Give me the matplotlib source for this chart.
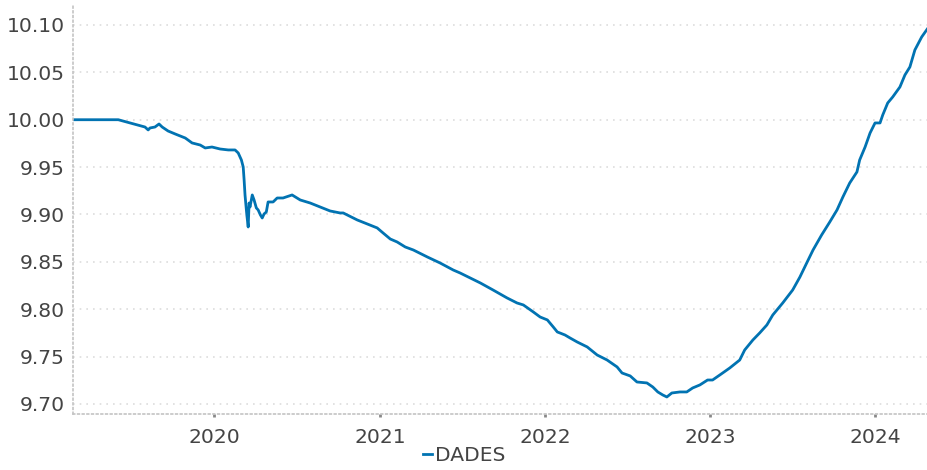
import matplotlib
matplotlib.use("Agg")
import matplotlib.pyplot as plt
import matplotlib.dates as mdates
import pandas as pd

# values
dates = [
    "2019-02-23", "2019-06-03", "2019-06-29", "2019-08-01", "2019-08-08", "2019-08-12",
    "2019-08-23", "2019-09-01", "2019-09-08", "2019-09-21", "2019-10-07", "2019-10-29",
    "2019-11-13", "2019-12-01", "2019-12-12", "2019-12-27", "2020-01-14", "2020-02-01",
    "2020-02-16", "2020-02-23", "2020-03-01", "2020-03-05", "2020-03-07", "2020-03-09",
    "2020-03-11", "2020-03-13", "2020-03-16", "2020-03-18", "2020-03-20", "2020-03-25",
    "2020-03-29", "2020-04-03", "2020-04-07", "2020-04-12", "2020-04-16", "2020-04-20",
    "2020-04-25", "2020-04-29", "2020-05-10", "2020-05-19", "2020-06-01", "2020-06-21",
    "2020-07-09", "2020-07-31", "2020-08-22", "2020-09-13", "2020-10-05", "2020-10-12",
    "2020-11-12", "2020-12-04", "2020-12-26", "2021-01-08", "2021-01-24", "2021-02-08",
    "2021-02-26", "2021-03-16", "2021-04-16", "2021-05-14", "2021-06-12", "2021-06-27",
    "2021-08-11", "2021-09-08", "2021-10-09", "2021-10-31", "2021-11-14", "2021-12-06",
    "2021-12-21", "2022-01-06", "2022-01-19", "2022-01-28", "2022-02-03", "2022-02-14",
    "2022-02-25", "2022-03-13", "2022-04-04", "2022-04-26", "2022-05-18", "2022-06-09",
    "2022-06-20", "2022-07-08", "2022-07-23", "2022-08-14", "2022-08-27", "2022-09-07",
    "2022-09-18", "2022-09-27", "2022-10-08", "2022-10-26", "2022-11-10", "2022-11-23",
    "2022-12-09", "2022-12-26", "2023-01-06", "2023-01-22", "2023-02-13", "2023-03-07",
    "2023-03-18", "2023-04-05", "2023-04-20", "2023-05-06", "2023-05-19", "2023-06-10",
    "2023-07-02", "2023-07-18", "2023-08-02", "2023-08-16", "2023-09-04", "2023-09-22",
    "2023-10-08", "2023-10-21", "2023-11-05", "2023-11-21", "2023-11-27", "2023-12-09",
    "2023-12-20", "2023-12-31", "2024-01-11", "2024-01-17", "2024-01-28", "2024-02-08",
    "2024-02-24", "2024-03-06", "2024-03-17", "2024-03-28", "2024-04-12", "2024-04-26",
]
values = [
    10.000, 10.000, 9.9966, 9.9923, 9.9892, 9.9913,
    9.9923, 9.9955, 9.9923, 9.9881, 9.9849, 9.9807,
    9.9755, 9.9733, 9.9702, 9.9712, 9.9691, 9.9681,
    9.9681, 9.9649, 9.9575, 9.9501, 9.9364, 9.9206,
    9.9100, 9.8995, 9.8868, 9.9121, 9.9079, 9.9206,
    9.9153, 9.9069, 9.9048, 9.8995, 9.8963, 9.9005,
    9.9026, 9.9132, 9.9132, 9.9174, 9.9174, 9.9206,
    9.9153, 9.9121, 9.9079, 9.9037, 9.9016, 9.9016,
    9.8942, 9.8900, 9.8858, 9.8805, 9.8741, 9.8710,
    9.8657, 9.8625, 9.8551, 9.8488, 9.8414, 9.8383,
    9.8277, 9.8203, 9.8119, 9.8066, 9.8045, 9.7971,
    9.7918, 9.7887, 9.7813, 9.7760, 9.7749, 9.7728,
    9.7697, 9.7654, 9.7602, 9.7517, 9.7464, 9.7391,
    9.7327, 9.7296, 9.7232, 9.7222, 9.7179, 9.7127,
    9.7095, 9.7074, 9.7116, 9.7127, 9.7127, 9.7169,
    9.7201, 9.7253, 9.7253, 9.7306, 9.7380, 9.7464,
    9.7570, 9.7675, 9.7749, 9.7834, 9.7939, 9.8066,
    9.8203, 9.8340, 9.8488, 9.8625, 9.8784, 9.8921,
    9.9048, 9.9185, 9.9332, 9.9449, 9.9575, 9.9712,
    9.9860, 9.9966, 9.9966, 10.0050, 10.0177, 10.0240,
    10.0346, 10.0472, 10.0557, 10.0736, 10.0873, 10.0968,
]
y_ticks = [9.70, 9.75, 9.80, 9.85, 9.90, 9.95, 10.00, 10.05, 10.10]
series_name = "DADES"

x = pd.to_datetime(dates)

plt.rcParams['font.family'] = ['DejaVu Sans']
fig = plt.figure(figsize=(9.28, 4.70), dpi=100)
ax = fig.add_axes([0.0787, 0.1191, 0.9213, 0.8703])

ax.plot(x, values, color='#0173B2', linewidth=2.0, label=series_name)

ax.set_xlim(pd.Timestamp("2019-02-23"), pd.Timestamp("2024-04-26"))
ax.set_ylim(9.6894, 10.1211)
ax.set_yticks(y_ticks)
ax.set_yticklabels([f"{v:.2f}" for v in y_ticks])
ax.xaxis.set_major_locator(mdates.YearLocator())
ax.xaxis.set_major_formatter(mdates.DateFormatter('%Y'))

ax.grid(axis='y', color='#dddddd', linestyle=(0, (1, 3)), linewidth=1.2)
ax.set_axisbelow(True)
for s in ['top', 'right']:
    ax.spines[s].set_visible(False)
for s in ['left', 'bottom']:
    ax.spines[s].set_color('#c4c4c4')
    ax.spines[s].set_linestyle((0, (1, 1.8)))
    ax.spines[s].set_linewidth(1.2)

ax.tick_params(axis='both', labelsize=14.6, colors='#444444')
ax.tick_params(axis='y', length=0, pad=6)
ax.tick_params(axis='x', length=2, width=2, color='#888888', pad=8)

fig.legend(loc='lower center', bbox_to_anchor=(0.5, -0.028), frameon=False,
           fontsize=14.6, handlelength=0.45, handletextpad=0.15,
           labelcolor='#444444')

fig.savefig('out.png', dpi=100)
